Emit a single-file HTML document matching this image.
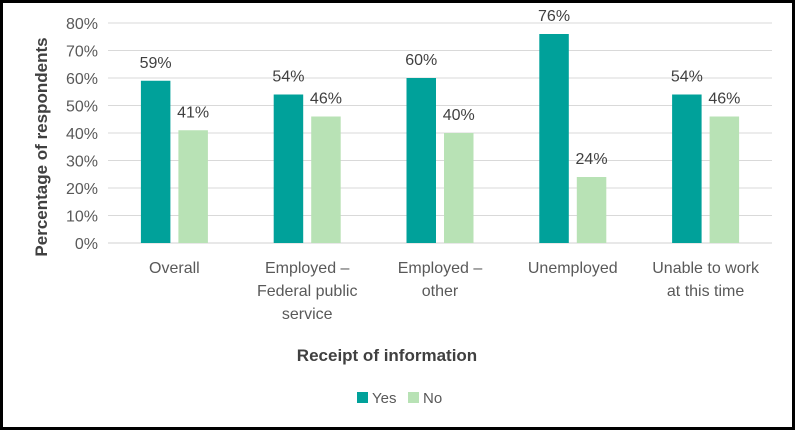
<!DOCTYPE html>
<html><head><meta charset="utf-8"><style>
body{margin:0;background:#fff}
svg{display:block;font-family:"Liberation Sans",sans-serif}
</style></head><body>
<svg width="795" height="430">
<rect x="1.5" y="1.5" width="792" height="427" fill="#fff" stroke="#000" stroke-width="3"/>
<g id="grid"></g><g id="bars"></g><g id="labels"></g>
<text transform="translate(47,147) rotate(-90)" text-anchor="middle" font-size="17" font-weight="bold" fill="#404040">Percentage of respondents</text>
<text x="387" y="361" text-anchor="middle" font-size="17" font-weight="bold" fill="#404040">Receipt of information</text>
<rect x="357" y="392" width="11" height="11" fill="#00A19A"/>
<text x="372" y="403" font-size="15" fill="#595959">Yes</text>
<rect x="408" y="392" width="11" height="11" fill="#B8E2B5"/>
<text x="423" y="403" font-size="15" fill="#595959">No</text>
</svg>
<script>
const categories=[["Overall"],["Employed –","Federal public","service"],["Employed –","other"],["Unemployed"],["Unable to work","at this time"]];
const yesValues=[59,54,60,76,54];
const noValues=[41,46,40,24,46];
const yTicks=[0,10,20,30,40,50,60,70,80];
const NS="http://www.w3.org/2000/svg";
const x0=108,x1=772,y0=243,y1=23,ymax=80;
const y=v=>y0-(v/ymax)*(y0-y1);
const bw=(x1-x0)/categories.length;
const cx=i=>x0+bw*(i+0.5);
function mk(t,a,p){const e=document.createElementNS(NS,t);for(const k in a)e.setAttribute(k,a[k]);p.appendChild(e);return e;}
const g=document.getElementById('grid'),b=document.getElementById('bars'),l=document.getElementById('labels');
yTicks.forEach(t=>{
 const ln=mk('line',{x1:x0,x2:x1,y1:y(t),y2:y(t),stroke:t===0?'#d0d0d0':'#d9d9d9','stroke-width':1},g);
 
 
 const tx=mk('text',{x:98,y:y(t)+6,'text-anchor':'end','font-size':16,fill:'#595959'},g);
 tx.textContent=t+'%';
 
 
});
categories.forEach((c,i)=>{
 [[yesValues[i],-33.5,'#00A19A','yes'],[noValues[i],4,'#B8E2B5','no']].forEach(([v,off,col,s])=>{
  const r=mk('rect',{x:cx(i)+off,y:y(v),width:29.5,height:y0-y(v),fill:col},b);
  
  
  const t=mk('text',{x:cx(i)+off+14.75,y:y(v)-13,'text-anchor':'middle','font-size':16,fill:'#404040'},l);
  t.textContent=v+'%';
  
  
 });
 c.forEach((line,j)=>{
  const t=mk('text',{x:cx(i),y:273+j*23,'text-anchor':'middle','font-size':16,fill:'#595959'},l);
  t.textContent=line;
  
  
 });
});
</script>
</body></html>
